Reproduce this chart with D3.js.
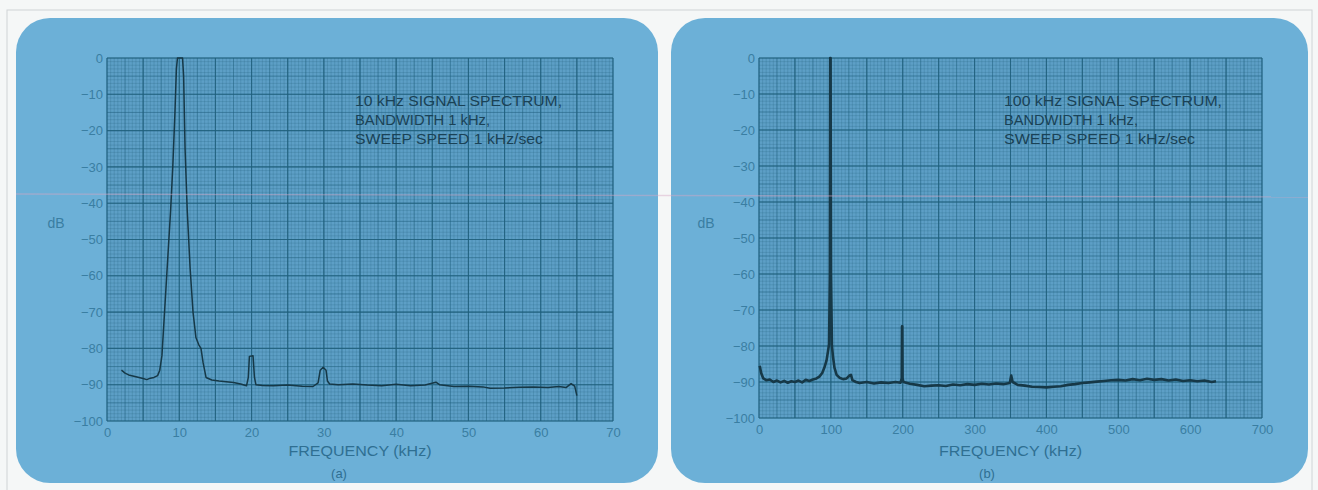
<!DOCTYPE html>
<html>
<head>
<meta charset="utf-8">
<script src="https://cdnjs.cloudflare.com/ajax/libs/d3/7.8.5/d3.min.js"></script>
<style>
  body { margin: 0; background: #f5f7f7; }
  svg { display: block; }
</style>
</head>
<body>
<script>
// values (kHz, dB)
var specA = [[2,-86],[2.5,-86.8],[3,-87.3],[4,-87.8],[5,-88.3],[5.5,-88.6],[6,-88.2],[6.5,-88],[7,-87.5],[7.3,-86],[7.6,-82],
  [7.9,-72],[8.2,-62],[8.5,-52],[8.8,-42],[9.1,-30],[9.4,-15],[9.6,-3],[9.75,0],[10.45,0],[10.6,-5],[10.8,-25],[11.1,-42],
  [11.5,-58],[11.9,-70],[12.3,-77],[12.7,-79],[13,-80],[13.3,-84],[13.7,-88],[14.5,-88.7],[15.5,-89],[16.5,-89.2],[17.5,-89.4],
  [18.5,-89.8],[19.3,-90.3],[19.55,-88],[19.7,-82.2],[20.2,-82],[20.4,-88],[20.6,-90],[21.5,-90.2],[23,-90.3],[25,-90.1],
  [27,-90.4],[28.5,-90.5],[29.2,-89.5],[29.5,-86],[29.9,-85.2],[30.3,-86],[30.5,-89],[30.8,-89.8],[32,-90],[34,-89.8],
  [36,-90.1],[38,-90.3],[40,-89.9],[42,-90.3],[44,-90.1],[45.5,-89.3],[46,-90],[48,-90.5],[50,-90.4],[52,-90.6],[53,-91],
  [55,-90.9],[57,-90.7],[59,-90.6],[61,-90.8],[62.5,-90.5],[63.5,-90.8],[64.2,-89.7],[64.7,-90.4],[65,-93]];

var specB = [[1,-85.5],[3,-87.5],[6,-89],[10,-89.5],[15,-89.3],[20,-90],[25,-89.6],[30,-90.1],[35,-89.7],[40,-90.2],[45,-89.8],
  [50,-90],[55,-89.6],[60,-90.1],[65,-89.4],[70,-89.7],[75,-89.3],[80,-89],[84,-88.5],[88,-87.5],[91,-86],[94,-84],[96,-81.5],
  [97.5,-79.5],[98.6,-60],[99.1,0],[99.6,0],[100.2,-60],[101.5,-80],[103,-83],[105,-86],[108,-88],[112,-88.8],[117,-89.2],
  [122,-89],[126,-88.2],[128,-88],[130,-89.5],[135,-90],[140,-90.3],[150,-90],[160,-90.4],[170,-90.1],[180,-90.3],[190,-90],
  [197,-90.2],[198.6,-89],[199,-74.5],[199.4,-74.5],[199.8,-89],[201,-90],[210,-90.5],[220,-90.8],[230,-91.2],[240,-91],
  [250,-90.9],[260,-91.1],[270,-90.7],[280,-90.9],[290,-90.6],[300,-90.8],[310,-90.5],[320,-90.7],[330,-90.4],[340,-90.6],
  [349,-90.3],[351,-88.2],[353,-90],[360,-90.8],[370,-91],[380,-91.3],[390,-91.4],[400,-91.5],[410,-91.3],[420,-91.2],
  [430,-90.8],[440,-90.6],[450,-90.3],[460,-90.1],[470,-89.9],[480,-89.7],[490,-89.5],[500,-89.4],[510,-89.6],[520,-89.2],
  [530,-89.5],[540,-89.1],[550,-89.4],[560,-89.2],[570,-89.6],[580,-89.3],[590,-89.7],[600,-89.5],[610,-89.8],[620,-89.6],
  [630,-90],[636,-89.8]];

var yTicks = [0,-10,-20,-30,-40,-50,-60,-70,-80,-90,-100];
var xTicksA = [0,10,20,30,40,50,60,70];
var xTicksB = [0,100,200,300,400,500,600,700];
var noteA = ['10 kHz SIGNAL SPECTRUM,', 'BANDWIDTH 1 kHz,', 'SWEEP SPEED 1 kHz/sec'];
var noteB = ['100 kHz SIGNAL SPECTRUM,', 'BANDWIDTH 1 kHz,', 'SWEEP SPEED 1 kHz/sec'];

var svg = d3.select('body').append('svg')
    .attr('width', 1318)
    .attr('height', 490);

// thin frame of the scanned page
svg.append('rect')
    .attr('x', 7).attr('y', 10)
    .attr('width', 1305).attr('height', 490)
    .style('fill', 'none')
    .style('stroke', '#cfd4d6')
    .style('stroke-width', 1);

var lineColor = '#1a4256';
var labelColor = '#3a7ea2';

var draw_panel = function(cfg){
    var g = svg.append('g');
    g.append('rect')
        .attr('x', cfg.box[0]).attr('y', cfg.box[1])
        .attr('width', cfg.box[2]).attr('height', cfg.box[3])
        .attr('rx', 34).attr('ry', 34)
        .style('fill', '#6cb0d7');

    var x = d3.scaleLinear().domain([0, cfg.xmax]).range(cfg.xr);
    var y = d3.scaleLinear().domain([-100, 0]).range(cfg.yr);

    g.append('rect')
        .attr('x', x(0)).attr('y', y(0))
        .attr('width', x(cfg.xmax) - x(0)).attr('height', y(-100) - y(0))
        .style('fill', '#5d9fc6');

    // graph paper: fine, medium, heavy rulings
    var levels = [
        {k: 1, op: 0.36, w: 0.6},
        {k: 5, op: 0.5, w: 0.8},
        {k: 10, op: 0.8, w: 1.1}
    ];
    levels.forEach(function(l){
        var xs = d3.range(0, cfg.xmax + 1e-6, cfg.xminor * l.k);
        var ys = d3.range(-100, 0 + 1e-6, 1 * l.k);
        g.selectAll(null).data(xs).enter().append('line')
            .attr('x1', function(d){return x(d)}).attr('x2', function(d){return x(d)})
            .attr('y1', y(0)).attr('y2', y(-100))
            .style('stroke', '#1f5f7c').style('stroke-opacity', l.op).style('stroke-width', l.w);
        g.selectAll(null).data(ys).enter().append('line')
            .attr('y1', function(d){return y(d)}).attr('y2', function(d){return y(d)})
            .attr('x1', x(0)).attr('x2', x(cfg.xmax))
            .style('stroke', '#1f5f7c').style('stroke-opacity', l.op).style('stroke-width', l.w);
    });

    var ya = g.append('g')
        .attr('transform', 'translate(' + x(0) + ',0)')
        .call(d3.axisLeft(y).tickValues(yTicks).tickSize(0).tickPadding(4));
    var xa = g.append('g')
        .attr('transform', 'translate(0,' + y(-100) + ')')
        .call(d3.axisBottom(x).tickValues(cfg.xticks).tickSize(0).tickPadding(7));
    [ya, xa].forEach(function(a){
        a.select('.domain').remove();
        a.selectAll('text')
            .style('font-family', 'Liberation Sans, Arial, sans-serif')
            .style('font-size', '13px')
            .style('fill', labelColor);
    });

    g.append('path')
        .datum(cfg.data)
        .attr('d', d3.line().x(function(d){return x(d[0])}).y(function(d){return y(d[1])}))
        .style('fill', 'none')
        .style('stroke', '#163847')
        .style('stroke-width', cfg.sw)
        .style('stroke-linejoin', 'round');

    g.selectAll('.note').data(cfg.note).enter().append('text')
        .attr('x', cfg.noteX)
        .attr('y', function(d, i){return 106 + i * 19})
        .attr('textLength', function(d, i){return cfg.noteW[i]})
        .attr('lengthAdjust', 'spacingAndGlyphs')
        .text(function(d){return d})
        .style('font-family', 'Liberation Sans, Arial, sans-serif')
        .style('font-size', '14px')
        .style('fill', lineColor);

    g.append('text')
        .attr('x', cfg.dbX).attr('y', 228)
        .attr('text-anchor', 'middle')
        .text('dB')
        .style('font-family', 'Liberation Sans, Arial, sans-serif')
        .style('font-size', '14px')
        .style('fill', labelColor);

    g.append('text')
        .attr('x', (x(0) + x(cfg.xmax)) / 2).attr('y', 456)
        .attr('text-anchor', 'middle')
        .attr('textLength', 143).attr('lengthAdjust', 'spacingAndGlyphs')
        .text('FREQUENCY (kHz)')
        .style('font-family', 'Liberation Sans, Arial, sans-serif')
        .style('font-size', '15px')
        .style('fill', '#2f6f92');

    g.append('text')
        .attr('x', cfg.capX).attr('y', 478)
        .attr('text-anchor', 'middle')
        .text(cfg.cap)
        .style('font-family', 'Liberation Sans, Arial, sans-serif')
        .style('font-size', '13px')
        .style('fill', '#2f6f92');
};

draw_panel({box: [16, 18, 642, 465], xmax: 70, xminor: 0.5, xr: [107, 613], yr: [421, 58],
    xticks: xTicksA, data: specA, sw: 1.5, note: noteA, noteX: 355, noteW: [207, 135, 188],
    dbX: 56, cap: '(a)', capX: 339});
draw_panel({box: [671, 18, 637, 465], xmax: 700, xminor: 5, xr: [759, 1262], yr: [418, 58],
    xticks: xTicksB, data: specB, sw: 2.6, note: noteB, noteX: 1004, noteW: [218, 134, 191],
    dbX: 706, cap: '(b)', capX: 987});

// faint pink streak left by the scanner
svg.append('line')
    .attr('x1', 16).attr('y1', 194).attr('x2', 1308).attr('y2', 197)
    .style('stroke', '#d8a6c4')
    .style('stroke-opacity', 0.45)
    .style('stroke-width', 1.3);
</script>
</body>
</html>
